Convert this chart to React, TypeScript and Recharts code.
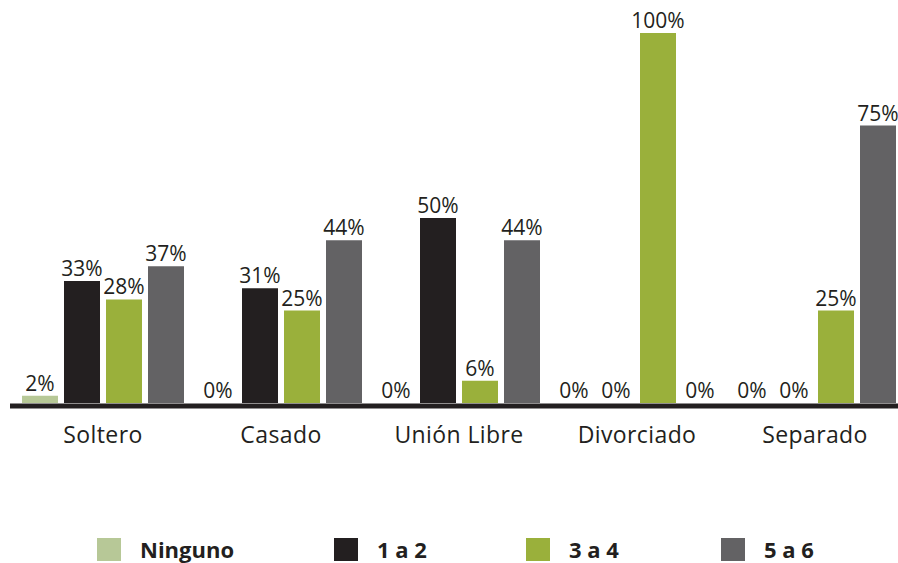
import { Bar, BarChart, LabelList, Legend, XAxis, YAxis } from "recharts";

const categories = ["Soltero", "Casado", "Unión Libre", "Divorciado", "Separado"];
const ninguno = [2, 0, 0, 0, 0];
const unoADos = [33, 31, 50, 0, 0];
const tresACuatro = [28, 25, 6, 100, 25];
const cincoASeis = [37, 44, 44, 0, 75];

const seriesNames = ["Ninguno", "1 a 2", "3 a 4", "5 a 6"];
const seriesColors = ["#b7c897", "#231f20", "#9ab03b", "#636264"];

const data = categories.map((cat, i) => ({
  cat,
  ninguno: ninguno[i],
  unoADos: unoADos[i],
  tresACuatro: tresACuatro[i],
  cincoASeis: cincoASeis[i],
}));

const keys = ["ninguno", "unoADos", "tresACuatro", "cincoASeis"];
const font = "'Open Sans', sans-serif";
const ink = "#231f20";
const legendWidths = [237, 192, 195, 120];

function LegendBox() {
  return (
    <div style={{ display: "flex", alignItems: "center", height: 24, paddingLeft: 87 }}>
      {seriesNames.map((name, i) => (
        <div key={name} style={{ display: "flex", alignItems: "center", width: legendWidths[i], height: 24 }}>
          <span style={{ width: 24, height: 23, background: seriesColors[i], display: "inline-block" }} />
          <span style={{ marginLeft: 19, fontFamily: font, fontWeight: 700, fontSize: 22, lineHeight: "22px", color: ink }}>
            {name}
          </span>
        </div>
      ))}
    </div>
  );
}

export default function App() {
  return (
    <div style={{ position: "absolute", left: 0, top: 0, width: 898, height: 563, overflow: "hidden", background: "#fff" }}>
      <BarChart
        width={904}
        height={563}
        data={data}
        margin={{ top: 33, right: 0, left: 10, bottom: 2 }}
        barSize={36}
        barGap={6}
      >
        <XAxis
          dataKey="cat"
          height={131}
          padding={{ left: 4, right: 0 }}
          axisLine={{ stroke: ink, strokeWidth: 5 }}
          tickLine={false}
          tickMargin={15}
          tick={{ fontSize: 23, fill: ink, fontFamily: font, letterSpacing: 0.4 }}
          interval={0}
        />
        <YAxis hide domain={[-0.8, 100]} />
        <Legend verticalAlign="bottom" content={() => <LegendBox />} />
        {keys.map((k, i) => (
          <Bar
            key={k}
            dataKey={k}
            name={seriesNames[i]}
            fill={seriesColors[i]}
            minPointSize={0.01}
            isAnimationActive={false}
          >
            <LabelList
              dataKey={k}
              position="top"
              offset={5}
              formatter={(v: number) => `${v}%`}
              style={{ fontSize: 21, fill: ink, fontFamily: font }}
            />
          </Bar>
        ))}
      </BarChart>
    </div>
  );
}
